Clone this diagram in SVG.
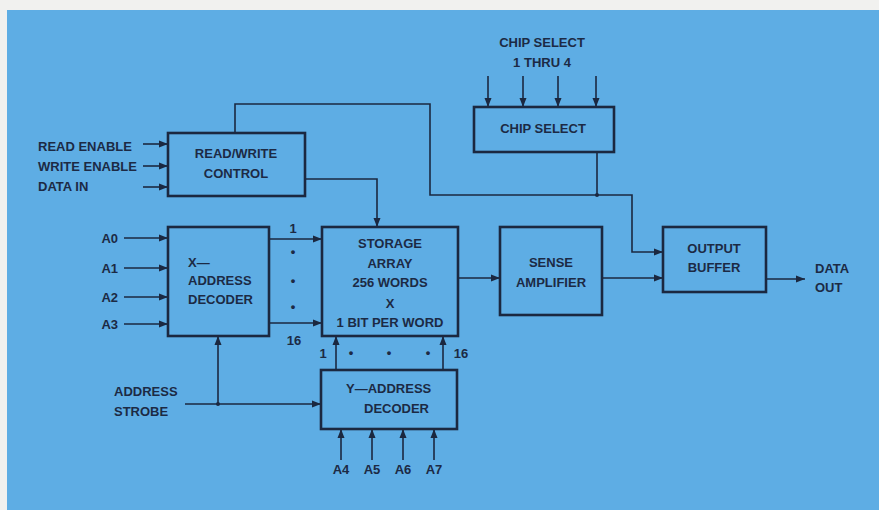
<svg xmlns="http://www.w3.org/2000/svg" width="879" height="510" viewBox="0 0 879 510">
<defs>
<marker id="ah" markerUnits="userSpaceOnUse" markerWidth="10" markerHeight="8" refX="9" refY="4" orient="auto">
<path d="M0,0.5 L9,4 L0,7.5 Z" fill="#1b2840"/>
</marker>
<style>
.box{fill:none;stroke:#1b2840;stroke-width:2.6}
.ln{fill:none;stroke:#1b2840;stroke-width:1.6}
.ar{fill:none;stroke:#1b2840;stroke-width:1.6;marker-end:url(#ah)}
text{font-family:"Liberation Sans",Arial,sans-serif;font-weight:bold;font-size:13px;fill:#1c2a44}
.c{text-anchor:middle}
.r{text-anchor:end}
</style>
</defs>
<rect x="0" y="0" width="879" height="510" fill="#f1f1ef"/>
<rect x="7" y="10" width="872" height="500" fill="#5eade4"/>

<g id="connectors">
<path class="ar" d="M143,144 H168"/>
<path class="ar" d="M143,166 H168"/>
<path class="ar" d="M143,187 H168"/>
<path class="ar" d="M124,238 H168"/>
<path class="ar" d="M124,268 H168"/>
<path class="ar" d="M124,297 H168"/>
<path class="ar" d="M124,324 H168"/>
<path class="ar" d="M269,239 H322"/>
<path class="ar" d="M269,323 H322"/>
<path class="ar" d="M305,179 H377 V227"/>
<path class="ar" d="M235,133 V104 H430 V195 H632 V252 H663"/>
<path class="ln" d="M597,152 V195"/>
<circle cx="597" cy="195" r="2" fill="#1b2840"/>
<path class="ar" d="M488,76 V107"/>
<path class="ar" d="M523,76 V107"/>
<path class="ar" d="M558,76 V107"/>
<path class="ar" d="M596,76 V107"/>
<path class="ar" d="M458,278 H500"/>
<path class="ar" d="M602,278 H663"/>
<path class="ar" d="M766,279 H805"/>
<path class="ar" d="M185,404 H321"/>
<path class="ar" d="M218,404 V336"/>
<circle cx="218" cy="404" r="2" fill="#1b2840"/>
<path class="ar" d="M336,370 V336"/>
<path class="ar" d="M443,370 V336"/>
<path class="ar" d="M341,460 V429"/>
<path class="ar" d="M372,460 V429"/>
<path class="ar" d="M403,460 V429"/>
<path class="ar" d="M434,460 V429"/>
</g>

<g id="rw-control">
<rect class="box" x="168" y="133" width="137" height="63"/>
<text class="c" x="236" y="158">READ/WRITE</text>
<text class="c" x="236" y="178">CONTROL</text>
</g>

<g id="x-decoder">
<rect class="box" x="168" y="227" width="101" height="109"/>
<text x="188" y="267">X—</text>
<text x="188" y="285">ADDRESS</text>
<text x="188" y="304">DECODER</text>
</g>

<g id="storage-array">
<rect class="box" x="322" y="227" width="136" height="109"/>
<text class="c" x="390" y="248">STORAGE</text>
<text class="c" x="390" y="268">ARRAY</text>
<text class="c" x="390" y="287">256 WORDS</text>
<text class="c" x="390" y="308">X</text>
<text class="c" x="390" y="327">1 BIT PER WORD</text>
</g>

<g id="y-decoder">
<rect class="box" x="321" y="370" width="136" height="59"/>
<text x="346" y="393">Y—ADDRESS</text>
<text x="364" y="413">DECODER</text>
</g>

<g id="chip-select">
<rect class="box" x="474" y="107" width="140" height="45"/>
<text class="c" x="543" y="133">CHIP SELECT</text>
</g>

<g id="sense-amplifier">
<rect class="box" x="500" y="227" width="102" height="88"/>
<text class="c" x="551" y="267">SENSE</text>
<text class="c" x="551" y="287">AMPLIFIER</text>
</g>

<g id="output-buffer">
<rect class="box" x="663" y="227" width="103" height="65"/>
<text class="c" x="714" y="253">OUTPUT</text>
<text class="c" x="714" y="272">BUFFER</text>
</g>

<g id="labels">
<text class="c" x="542" y="47">CHIP SELECT</text>
<text class="c" x="542" y="67">1 THRU 4</text>
<text x="38" y="151">READ ENABLE</text>
<text x="38" y="171">WRITE ENABLE</text>
<text x="38" y="191">DATA IN</text>
<text class="r" x="118" y="243">A0</text>
<text class="r" x="118" y="273">A1</text>
<text class="r" x="118" y="302">A2</text>
<text class="r" x="118" y="329">A3</text>
<text class="c" x="293" y="233">1</text>
<text class="c" x="293" y="256">•</text>
<text class="c" x="293" y="285">•</text>
<text class="c" x="293" y="311">•</text>
<text class="c" x="294" y="345">16</text>
<text class="c" x="323" y="358">1</text>
<text class="c" x="351" y="357">•</text>
<text class="c" x="389" y="357">•</text>
<text class="c" x="428" y="357">•</text>
<text class="c" x="461" y="358">16</text>
<text x="114" y="396">ADDRESS</text>
<text x="114" y="416">STROBE</text>
<text class="c" x="341" y="474">A4</text>
<text class="c" x="372" y="474">A5</text>
<text class="c" x="403" y="474">A6</text>
<text class="c" x="434" y="474">A7</text>
<text x="815" y="273">DATA</text>
<text x="815" y="292">OUT</text>
</g>
</svg>
